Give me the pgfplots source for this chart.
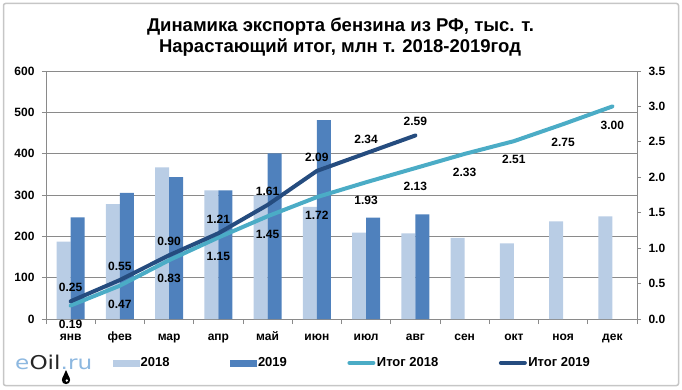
\documentclass[border=0pt]{standalone}
\usepackage{pgfplots}
\pgfplotsset{compat=1.18}
\usepackage{fontspec}
\setmainfont{Liberation Sans}
\newfontfamily\logofont{DejaVu Sans}
\definecolor{c18}{HTML}{B9CDE5}
\definecolor{c19}{HTML}{4F81BD}
\definecolor{i18}{HTML}{4BACC6}
\definecolor{i19}{HTML}{254C7F}
\definecolor{gridc}{HTML}{8A8A8A}
\definecolor{logoblue}{HTML}{8DB8E0}
\pgfplotstableread{
x b18 b19
0 187 246
1 278 305
2 367 343
3 311 311
4 299 401
5 271 481
6 209 245
7 207 253
8 196 nan
9 183 nan
10 236 nan
11 248 nan
}\bars
\pgfplotstableread{
x y
0 0.19
1 0.47
2 0.83
3 1.15
4 1.45
5 1.72
6 1.93
7 2.13
8 2.33
9 2.51
10 2.75
11 3.00
}\itoga
\pgfplotstableread{
x y
0 0.25
1 0.55
2 0.90
3 1.21
4 1.61
5 2.09
6 2.34
7 2.59
}\itogb
\begin{document}
\begin{tikzpicture}
\useasboundingbox (0pt,0pt) rectangle (682pt,389pt);
\draw[gray!45, line width=1.5pt, rounded corners=2pt] (3.5pt,3.5pt) rectangle (678.5pt,385.5pt);
\node[font=\fontsize{18.5}{21}\selectfont\bfseries, anchor=base] at (340.5pt,357pt) {Динамика экспорта бензина из РФ, тыс. т.};
\node[font=\fontsize{18.5}{21}\selectfont\bfseries, anchor=base] at (340pt,336pt) {Нарастающий итог, млн т. 2018-2019год};
\node[anchor=west, font=\logofont\fontsize{19}{19}\selectfont, xscale=1.22, inner sep=0pt] at (15pt,27pt) {\textcolor{logoblue}{e}\textcolor{black!85}{Oil}\textcolor{logoblue}{.ru}};
\fill[black] (66pt,9pt) circle (4.2pt);
\fill[black] (62.2pt,10.5pt) -- (66pt,19pt) -- (69.8pt,10.5pt) -- cycle;
\fill[white] (66.8pt,8.5pt) circle (1.3pt);
\begin{axis}[
  at={(46pt,70pt)}, anchor=south west, scale only axis,
  width=591pt, height=248pt,
  xmin=-0.5, xmax=11.5, ymin=0, ymax=600,
  ytick={0,100,...,600},
  ymajorgrids, grid style={gridc, line width=0.7pt},
  xtick={0,...,11},
  xticklabels={янв,фев,мар,апр,май,июн,июл,авг,сен,окт,ноя,дек},
  minor xtick={-0.5,0.5,...,11.5},
  major x tick style={draw=none},
  minor tick length=5pt, major tick length=4pt,
  tick align=outside, xtick pos=bottom, ytick pos=left,
  axis x line*=bottom, axis y line*=left,
  axis line style={gridc, line width=0.8pt},
  tick style={gridc, line width=0.8pt},
  ticklabel style={font=\fontsize{12}{14}\selectfont\bfseries},
  /pgf/number format/assume math mode=true,
  yticklabel style={xshift=-4pt},
  xticklabel style={text height=8.5pt, text depth=2.5pt, inner sep=0pt, yshift=-8.7pt},
  ybar=0pt, bar width=14pt,
]
\addplot[fill=c18, draw=none] table[x=x, y=b18] {\bars};
\addplot[fill=c19, draw=none] table[x=x, y=b19] {\bars};
\end{axis}
\begin{axis}[
  at={(46pt,70pt)}, anchor=south west, scale only axis,
  width=591pt, height=248pt,
  xmin=-0.5, xmax=11.5, ymin=0, ymax=3.5,
  ytick={0,0.5,...,3.5},
  axis y line*=right, axis x line=none,
  tick align=outside, major tick length=4pt,
  axis line style={gridc, line width=0.8pt},
  tick style={gridc, line width=0.8pt},
  ticklabel style={font=\fontsize{12}{14}\selectfont\bfseries},
  /pgf/number format/assume math mode=true,
  yticklabel style={xshift=4pt, /pgf/number format/.cd, fixed, precision=1, fixed zerofill},
  clip=false,
  legend columns=4,
  legend style={at={(0.113,-0.177)}, anchor=west, draw=none, fill=none,
    inner sep=0pt, outer sep=0pt,
    font=\fontsize{13}{15}\selectfont\bfseries,
    /tikz/every even column/.append style={column sep=59pt},
    nodes={inner sep=1.5pt}},
]
\addlegendimage{legend image code/.code={\fill[c18] (0pt,-3pt) rectangle (26pt,3pt);}}
\addlegendentry{2018}
\addlegendimage{legend image code/.code={\fill[c19] (0pt,-3pt) rectangle (26pt,3pt);}}
\addlegendentry{2019}
\addplot[i18, line width=4pt, line cap=round,
  legend image code/.code={\draw[i18, line width=4pt, line cap=round] (2pt,0pt) -- (26pt,0pt);},
  nodes near coords={\pgfmathprintnumber[fixed,precision=2,fixed zerofill]{\pgfplotspointmeta}},
  every node near coord/.append style={anchor=center, yshift=-18.5pt, black, font=\fontsize{12}{14}\selectfont\bfseries}
] table[x=x, y=y] {\itoga};
\addlegendentry{Итог 2018}
\addplot[i19, line width=4pt, line cap=round,
  legend image code/.code={\draw[i19, line width=4pt, line cap=round] (2pt,0pt) -- (26pt,0pt);},
  nodes near coords={\pgfmathprintnumber[fixed,precision=2,fixed zerofill]{\pgfplotspointmeta}},
  every node near coord/.append style={anchor=center, yshift=14pt, black, font=\fontsize{12}{14}\selectfont\bfseries}
] table[x=x, y=y] {\itogb};
\addlegendentry{Итог 2019}
\end{axis}
\end{tikzpicture}
\end{document}
